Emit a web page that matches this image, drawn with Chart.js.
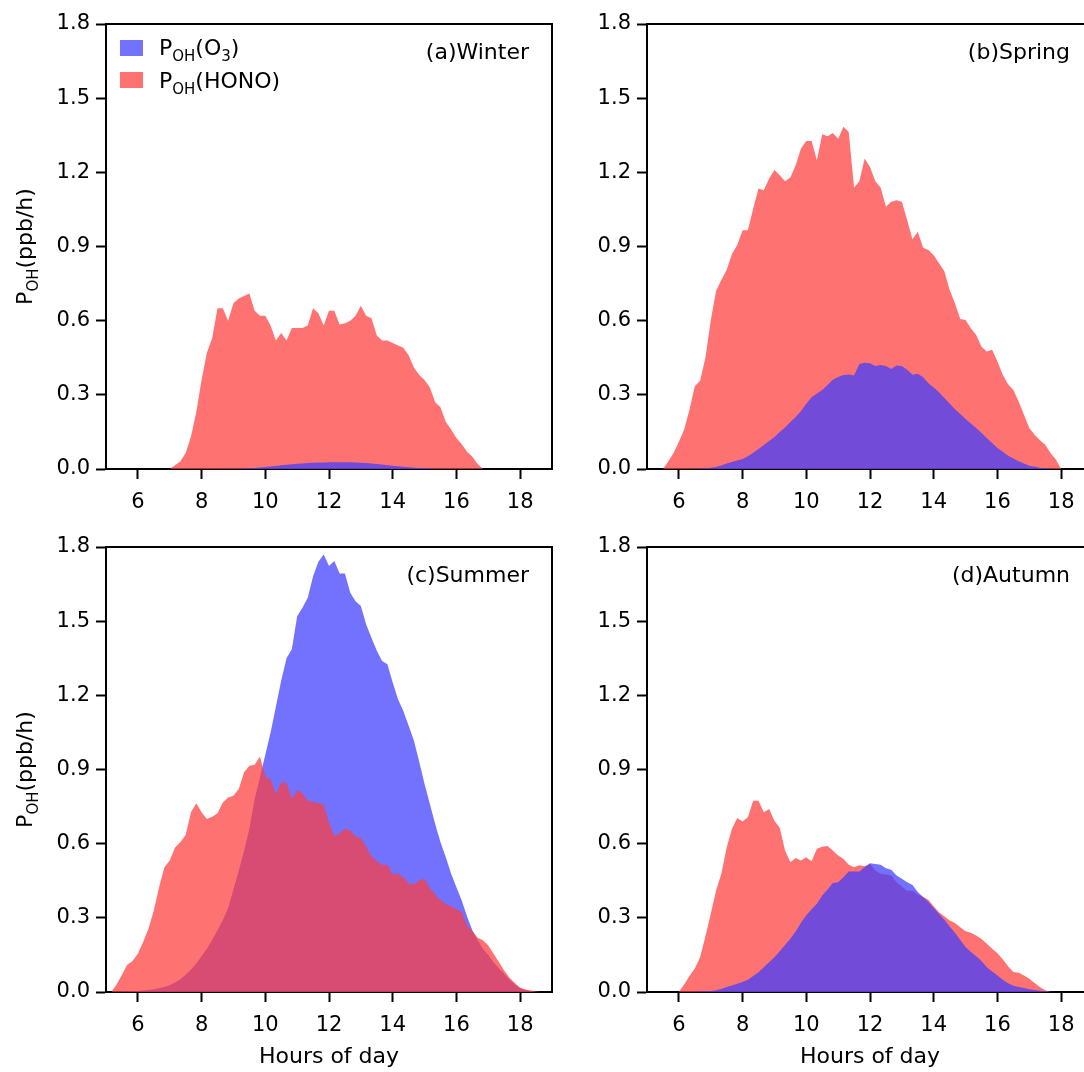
<!DOCTYPE html>
<html>
  <head>
    <title>P_OH diurnal by season</title>
    <script src="https://cdn.jsdelivr.net/npm/chart.js"></script>
    <style>
      html,
      body {
        margin: 0;
        padding: 0;
        background: #fff;
        overflow: hidden;
      }
      body {
        width: 1084px;
        height: 1072px;
        position: relative;
      }
      .wrap {
        position: absolute;
        height: 549px;
        overflow: hidden;
      }
      .wrap canvas {
        display: block;
        width: 560px;
        height: 549px;
      }
      #wa { left: 0; top: 0; width: 560px; }
      #wb { left: 541px; top: 0; width: 543px; }
      #wc { left: 0; top: 523px; width: 560px; }
      #wd { left: 541px; top: 523px; width: 543px; }
    </style>
  </head>
  <body>
    <div class="wrap" id="wa"><canvas id="pa" width="560" height="549"></canvas></div>
    <div class="wrap" id="wb"><canvas id="pb" width="560" height="549"></canvas></div>
    <div class="wrap" id="wc"><canvas id="pc" width="560" height="549"></canvas></div>
    <div class="wrap" id="wd"><canvas id="pd" width="560" height="549"></canvas></div>

    <script>
      // time of day, 10 min steps
      var hours = [
        "5:00", "5:10", "5:20", "5:30", "5:40", "5:50",
        "6:00", "6:10", "6:20", "6:30", "6:40", "6:50",
        "7:00", "7:10", "7:20", "7:30", "7:40", "7:50",
        "8:00", "8:10", "8:20", "8:30", "8:40", "8:50",
        "9:00", "9:10", "9:20", "9:30", "9:40", "9:50",
        "10:00", "10:10", "10:20", "10:30", "10:40", "10:50",
        "11:00", "11:10", "11:20", "11:30", "11:40", "11:50",
        "12:00", "12:10", "12:20", "12:30", "12:40", "12:50",
        "13:00", "13:10", "13:20", "13:30", "13:40", "13:50",
        "14:00", "14:10", "14:20", "14:30", "14:40", "14:50",
        "15:00", "15:10", "15:20", "15:30", "15:40", "15:50",
        "16:00", "16:10", "16:20", "16:30", "16:40", "16:50",
        "17:00", "17:10", "17:20", "17:30", "17:40", "17:50",
        "18:00", "18:10", "18:20", "18:30", "18:40", "18:50"
      ];

      var xTicks = [6, 8, 10, 12, 14, 16, 18];
      var yTicks = [0, 0.3, 0.6, 0.9, 1.2, 1.5, 1.8];
      var panelLabels = ["(a)Winter", "(b)Spring", "(c)Summer", "(d)Autumn"];

      // P_OH (ppb/h) from O3 photolysis and from HONO photolysis
      var winterO3 = [
        0, 0, 0, 0, 0, 0,
        0, 0, 0, 0, 0, 0,
        0, 0, 0, 0, 0, 0,
        0, 0, 0, 0, 0, 0,
        0, 0.001, 0.002, 0.003, 0.004, 0.006,
        0.008, 0.01, 0.012, 0.015, 0.017, 0.019,
        0.021, 0.022, 0.024, 0.025, 0.026, 0.026,
        0.027, 0.027, 0.027, 0.027, 0.027, 0.026,
        0.025, 0.024, 0.022, 0.02, 0.018, 0.015,
        0.013, 0.011, 0.009, 0.007, 0.005, 0.004,
        0.003, 0.002, 0.001, 0, 0, 0,
        0, 0, 0, 0, 0, 0,
        0, 0, 0, 0, 0, 0,
        0, 0, 0, 0, 0, 0
      ];
      var winterHONO = [
        0, 0, 0, 0, 0, 0,
        0, 0, 0, 0, 0, 0,
        0, 0.015, 0.03, 0.065, 0.13, 0.23,
        0.36, 0.47, 0.53, 0.65, 0.65, 0.6,
        0.67, 0.69, 0.7, 0.71, 0.64, 0.62,
        0.62, 0.58, 0.52, 0.55, 0.52, 0.57,
        0.57, 0.57, 0.58, 0.65, 0.63, 0.58,
        0.64, 0.64, 0.585, 0.59, 0.6, 0.62,
        0.66, 0.62, 0.61, 0.54, 0.52, 0.52,
        0.51, 0.5, 0.49, 0.46, 0.41, 0.38,
        0.36, 0.33, 0.27, 0.25, 0.19, 0.16,
        0.125, 0.1, 0.07, 0.05, 0.02, 0,
        0, 0, 0, 0, 0, 0,
        0, 0, 0, 0, 0, 0
      ];
      var springO3 = [
        0, 0, 0, 0, 0, 0,
        0, 0, 0, 0.001, 0.002, 0.003,
        0.005, 0.008, 0.014, 0.022, 0.028, 0.034,
        0.04, 0.052, 0.066, 0.081, 0.097, 0.113,
        0.129, 0.15, 0.168, 0.19, 0.21, 0.235,
        0.264, 0.29, 0.305, 0.32, 0.34, 0.361,
        0.372, 0.38, 0.382, 0.378, 0.425, 0.43,
        0.428, 0.417, 0.421, 0.417, 0.404, 0.419,
        0.417, 0.401, 0.381, 0.385, 0.371, 0.347,
        0.33, 0.31, 0.287, 0.265, 0.242, 0.222,
        0.202, 0.184, 0.166, 0.146, 0.125, 0.105,
        0.085, 0.07, 0.054, 0.042, 0.031, 0.022,
        0.013, 0.009, 0.005, 0.003, 0.001, 0,
        0, 0, 0, 0, 0, 0
      ];
      var springHONO = [
        0, 0, 0, 0, 0.03, 0.065,
        0.11, 0.16, 0.24, 0.335, 0.357, 0.45,
        0.6, 0.72, 0.765, 0.805, 0.87, 0.906,
        0.966, 0.966, 1.054, 1.135, 1.128, 1.175,
        1.209, 1.188, 1.164, 1.179, 1.229, 1.296,
        1.327, 1.327, 1.249, 1.354, 1.346, 1.359,
        1.336, 1.384, 1.363, 1.139, 1.164, 1.256,
        1.222, 1.164, 1.139, 1.061, 1.081, 1.087,
        1.081, 1.007, 0.929, 0.96, 0.895, 0.886,
        0.865, 0.832, 0.8, 0.724, 0.67, 0.607,
        0.603, 0.569, 0.542, 0.495, 0.475, 0.482,
        0.435, 0.381, 0.343, 0.32, 0.273, 0.219,
        0.166, 0.139, 0.116, 0.098, 0.065, 0.038,
        0, 0, 0, 0, 0, 0
      ];
      var summerO3 = [
        0, 0, 0, 0.001, 0.002, 0.003,
        0.004, 0.006, 0.008, 0.011, 0.015, 0.02,
        0.027, 0.038, 0.052, 0.07, 0.09, 0.115,
        0.145, 0.175, 0.21, 0.25, 0.29, 0.34,
        0.415, 0.49, 0.57, 0.66, 0.78, 0.87,
        0.96, 1.05, 1.155, 1.26, 1.35, 1.386,
        1.52, 1.554, 1.595, 1.682, 1.74, 1.77,
        1.723, 1.743, 1.693, 1.693, 1.615, 1.581,
        1.561, 1.487, 1.433, 1.38, 1.339, 1.326,
        1.252, 1.184, 1.137, 1.077, 1.016, 0.93,
        0.841, 0.76, 0.68, 0.606, 0.545, 0.478,
        0.424, 0.37, 0.305, 0.25, 0.209, 0.175,
        0.15, 0.12, 0.095, 0.074, 0.05, 0.03,
        0.015, 0.008, 0.003, 0, 0, 0
      ];
      var summerHONO = [
        0, 0, 0.03, 0.07, 0.11, 0.125,
        0.155, 0.202, 0.256, 0.33, 0.424, 0.505,
        0.532, 0.585, 0.606, 0.635, 0.727, 0.763,
        0.727, 0.7, 0.709, 0.723, 0.767, 0.787,
        0.794, 0.821, 0.888, 0.915, 0.919, 0.953,
        0.871, 0.861, 0.8, 0.848, 0.845, 0.781,
        0.817, 0.803, 0.774, 0.77, 0.763, 0.756,
        0.686, 0.63, 0.642, 0.66, 0.653, 0.629,
        0.623, 0.588, 0.548, 0.529, 0.514, 0.515,
        0.475, 0.478, 0.464, 0.44, 0.435, 0.451,
        0.458, 0.42, 0.394, 0.37, 0.357, 0.346,
        0.336, 0.323, 0.269, 0.246, 0.219, 0.209,
        0.188, 0.155, 0.121, 0.087, 0.058, 0.036,
        0.017, 0.01, 0.006, 0.002, 0, 0
      ];
      var autumnO3 = [
        0, 0, 0, 0, 0, 0,
        0, 0, 0, 0.001, 0.002, 0.003,
        0.004, 0.007, 0.012, 0.02, 0.026, 0.033,
        0.04, 0.05, 0.065, 0.08, 0.1, 0.12,
        0.141, 0.165, 0.19, 0.215, 0.245, 0.28,
        0.31, 0.335, 0.357, 0.39, 0.415, 0.441,
        0.444, 0.464, 0.487, 0.487, 0.487, 0.505,
        0.521, 0.518, 0.515, 0.501, 0.494, 0.471,
        0.458, 0.444, 0.433, 0.404, 0.384, 0.364,
        0.34, 0.316, 0.292, 0.265, 0.24, 0.21,
        0.182, 0.162, 0.145, 0.125, 0.1, 0.083,
        0.067, 0.05, 0.035, 0.025, 0.02, 0.016,
        0.011, 0.008, 0.005, 0.003, 0.001, 0,
        0, 0, 0, 0, 0, 0
      ];
      var autumnHONO = [
        0, 0, 0, 0, 0, 0,
        0, 0.03, 0.065, 0.095, 0.141, 0.225,
        0.316, 0.41, 0.478, 0.585, 0.66, 0.704,
        0.69, 0.707, 0.774, 0.774, 0.727, 0.74,
        0.693, 0.664, 0.572, 0.525, 0.542, 0.532,
        0.545, 0.529, 0.579, 0.588, 0.591, 0.572,
        0.552, 0.538, 0.515, 0.505, 0.513, 0.509,
        0.518, 0.491, 0.478, 0.475, 0.471, 0.444,
        0.427, 0.41, 0.41, 0.394, 0.384, 0.373,
        0.347, 0.323, 0.306, 0.289, 0.279, 0.262,
        0.246, 0.24, 0.229, 0.214, 0.195, 0.175,
        0.157, 0.132, 0.104, 0.081, 0.078, 0.067,
        0.054, 0.036, 0.02, 0.007, 0, 0,
        0, 0, 0, 0, 0, 0
      ];

      var O3_COLOR = "rgba(60, 60, 255, 0.72)";
      var HONO_COLOR = "rgba(255, 60, 60, 0.72)";
      var FONT = '"DejaVu Sans", sans-serif';

      function toHour(s) {
        var p = s.split(":");
        return Number(p[0]) + Number(p[1]) / 60;
      }

      function points(vals) {
        return hours.map(function (h, i) {
          return { x: toHour(h), y: vals[i] };
        });
      }

      // text with subscripts, parts = [[text, isSub], ...]
      function richText(ctx, parts, x, y, align) {
        var total = 0;
        parts.forEach(function (p) {
          ctx.font = (p[1] ? "15px " : "22px ") + FONT;
          total += ctx.measureText(p[0]).width;
        });
        var cx = align === "center" ? x - total / 2 : x;
        ctx.textAlign = "left";
        ctx.textBaseline = "alphabetic";
        parts.forEach(function (p) {
          ctx.font = (p[1] ? "15px " : "22px ") + FONT;
          ctx.fillText(p[0], cx, p[1] ? y + 6 : y);
          cx += ctx.measureText(p[0]).width;
        });
      }

      var decor = {
        id: "decor",
        afterDraw: function (chart, args, o) {
          var ctx = chart.ctx;
          var a = chart.chartArea;
          ctx.save();
          // top and right frame
          ctx.strokeStyle = "#000";
          ctx.lineWidth = 2;
          ctx.beginPath();
          ctx.moveTo(a.left, a.top);
          ctx.lineTo(a.right, a.top);
          ctx.lineTo(a.right, a.bottom);
          ctx.stroke();

          ctx.fillStyle = "#000";
          ctx.font = "22px " + FONT;
          ctx.textAlign = "right";
          ctx.textBaseline = "alphabetic";
          ctx.fillText(o.label, a.right - 23, a.top + 35);

          if (o.yTitle) {
            ctx.save();
            ctx.translate(a.left - 74, (a.top + a.bottom) / 2);
            ctx.rotate(-Math.PI / 2);
            richText(ctx, [["P", false], ["OH", true], ["(ppb/h)", false]], 0, 0, "center");
            ctx.restore();
          }
          if (o.xTitle) {
            ctx.font = "22px " + FONT;
            ctx.textAlign = "center";
            ctx.fillText("Hours of day", (a.left + a.right) / 2, a.bottom + 71);
          }
          if (o.legend) {
            ctx.fillStyle = O3_COLOR;
            ctx.fillRect(a.left + 14, a.top + 16, 23, 16);
            ctx.fillStyle = HONO_COLOR;
            ctx.fillRect(a.left + 14, a.top + 48, 23, 16);
            ctx.fillStyle = "#000";
            richText(ctx, [["P", false], ["OH", true], ["(O", false], ["3", true], [")", false]], a.left + 53, a.top + 31);
            richText(ctx, [["P", false], ["OH", true], ["(HONO)", false]], a.left + 53, a.top + 64);
          }
          ctx.restore();
        },
      };

      function makePanel(id, o3, hono, o) {
        new Chart(document.getElementById(id), {
          type: "line",
          data: {
            datasets: [
              {
                label: "P_OH(O3)",
                data: points(o3),
                backgroundColor: O3_COLOR,
                borderColor: "rgba(0,0,0,0)",
                borderWidth: 0,
                fill: "origin",
                pointRadius: 0,
                tension: 0,
                order: o.honoOnTop ? 1 : 0,
              },
              {
                label: "P_OH(HONO)",
                data: points(hono),
                backgroundColor: HONO_COLOR,
                borderColor: "rgba(0,0,0,0)",
                borderWidth: 0,
                fill: "origin",
                pointRadius: 0,
                tension: 0,
                order: o.honoOnTop ? 0 : 1,
              },
            ],
          },
          options: {
            responsive: false,
            animation: false,
            events: [],
            layout: { padding: { top: 24, right: 8, left: 0, bottom: 0 } },
            plugins: {
              legend: { display: false },
              tooltip: { enabled: false },
              decor: o,
            },
            scales: {
              x: {
                type: "linear",
                min: 5,
                max: 19,
                afterBuildTicks: function (s) {
                  s.ticks = xTicks.map(function (v) { return { value: v }; });
                },
                afterFit: function (s) { s.height = 80; },
                ticks: { color: "#000", font: { family: FONT, size: 21 }, padding: 11, maxRotation: 0, autoSkip: false },
                grid: { drawOnChartArea: false, drawTicks: true, tickLength: 10, tickWidth: 2, tickColor: "#000" },
                border: { color: "#000", width: 2 },
              },
              y: {
                min: 0,
                max: 1.8,
                afterBuildTicks: function (s) {
                  s.ticks = yTicks.map(function (v) { return { value: v }; });
                },
                afterFit: function (s) { s.width = 106; },
                ticks: {
                  color: "#000",
                  font: { family: FONT, size: 21 },
                  padding: 6,
                  callback: function (v) { return Number(v).toFixed(1); },
                },
                grid: { drawOnChartArea: false, drawTicks: true, tickLength: 10, tickWidth: 2, tickColor: "#000" },
                border: { color: "#000", width: 2 },
              },
            },
          },
          plugins: [decor],
        });
      }

      makePanel("pa", winterO3, winterHONO, { label: panelLabels[0], yTitle: true, legend: true });
      makePanel("pb", springO3, springHONO, { label: panelLabels[1] });
      makePanel("pc", summerO3, summerHONO, { label: panelLabels[2], yTitle: true, xTitle: true, honoOnTop: true });
      makePanel("pd", autumnO3, autumnHONO, { label: panelLabels[3], xTitle: true });
    </script>
  </body>
</html>
